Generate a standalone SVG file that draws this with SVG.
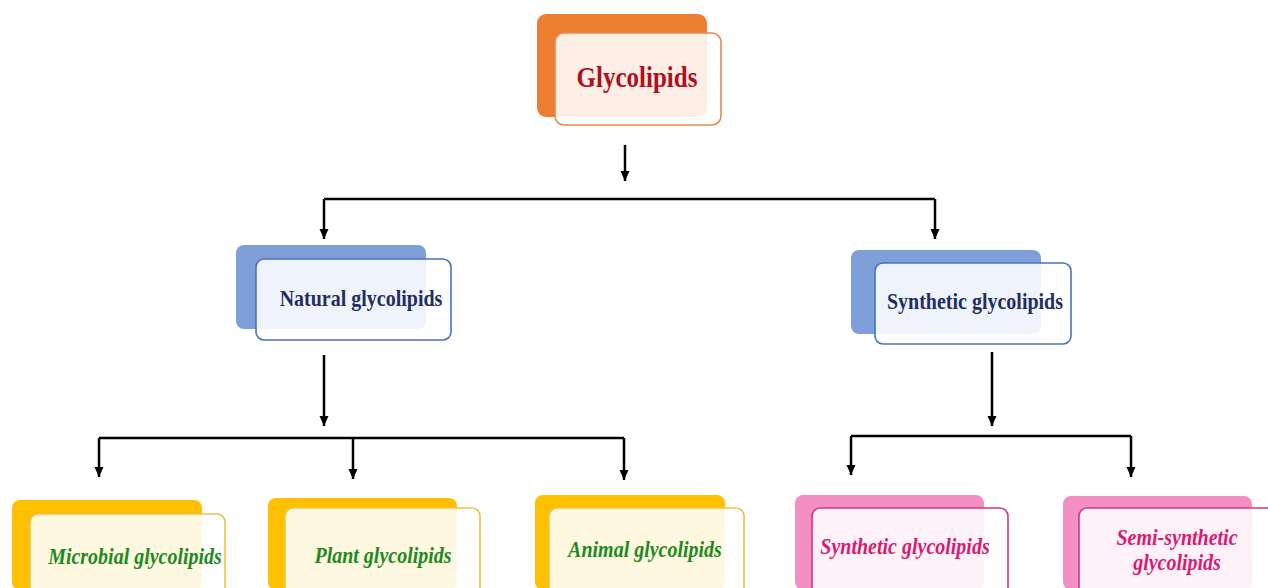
<svg xmlns="http://www.w3.org/2000/svg" width="1268" height="588" viewBox="0 0 1268 588">
<defs>
<marker id="ah" markerUnits="userSpaceOnUse" markerWidth="11" markerHeight="11" refX="10" refY="5" orient="auto">
<path d="M0,0.5 L10,5 L0,9.5 z" fill="#000"/>
</marker>
<style>
.ln{fill:none;stroke:#000;stroke-width:2.5}
.ar{fill:none;stroke:#000;stroke-width:2.5;marker-end:url(#ah)}
.front{fill:#fff;fill-opacity:0.88;stroke-width:1.6}
.t{font-family:"Liberation Serif","Times New Roman",serif;font-weight:bold;text-anchor:middle}
.o .back{fill:#ED7D31}.o .front{stroke:#E58A4C}
.b .back{fill:#7F9FD8}.b .front{stroke:#4A72C0}
.y .back{fill:#FFC000}.y .front{stroke:#EBC24A}
.p .back{fill:#F48FC4}.p .front{stroke:#D6367F}
.tb{fill:#1F2F5F;font-size:20px}
.tg{fill:#1E8A22;font-size:20px;font-style:italic}
.tp{fill:#D81B72;font-size:20px;font-style:italic}
</style>
</defs>
<g id="connectors">
<path class="ar" d="M625 145 V181"/>
<path class="ln" d="M324 199 H935"/>
<path class="ar" d="M324 199 V239"/>
<path class="ar" d="M935 199 V239"/>
<path class="ar" d="M324 355 V426"/>
<path class="ar" d="M992 352 V426"/>
<path class="ln" d="M99 438 H624"/>
<path class="ar" d="M99 438 V477"/>
<path class="ar" d="M353 438 V479"/>
<path class="ar" d="M624 438 V480"/>
<path class="ln" d="M851 436 H1131"/>
<path class="ar" d="M851 436 V475"/>
<path class="ar" d="M1131 436 V477"/>
</g>
<g id="glycolipids" class="o">
<rect class="back" x="537" y="14" width="170" height="103" rx="9"/>
<rect class="front" x="555" y="33" width="166" height="92" rx="9"/>
<text class="t" transform="translate(637,87) scale(1,1.2)" fill="#B0101E" font-size="25">Glycolipids</text>
</g>
<g id="natural" class="b">
<rect class="back" x="236" y="245" width="190" height="84" rx="8"/>
<rect class="front" x="256" y="259" width="195" height="81" rx="8"/>
<text class="t tb" transform="translate(361,306) scale(1,1.12)">Natural glycolipids</text>
</g>
<g id="synthetic" class="b">
<rect class="back" x="851" y="250" width="190" height="84" rx="8"/>
<rect class="front" x="875" y="263" width="196" height="81" rx="8"/>
<text class="t tb" transform="translate(975,309) scale(1,1.12)">Synthetic glycolipids</text>
</g>
<g id="microbial" class="y">
<rect class="back" x="12" y="500" width="190" height="90" rx="8"/>
<rect class="front" x="30" y="514" width="195" height="84" rx="8"/>
<text class="t tg" transform="translate(135,564) scale(1,1.12)">Microbial glycolipids</text>
</g>
<g id="plant" class="y">
<rect class="back" x="268" y="498" width="189" height="92" rx="8"/>
<rect class="front" x="285" y="508" width="195" height="90" rx="8"/>
<text class="t tg" transform="translate(383,563) scale(1,1.12)">Plant glycolipids</text>
</g>
<g id="animal" class="y">
<rect class="back" x="535" y="495" width="190" height="95" rx="8"/>
<rect class="front" x="549" y="508" width="195" height="90" rx="8"/>
<text class="t tg" transform="translate(645,557) scale(1,1.12)">Animal glycolipids</text>
</g>
<g id="synthetic-sub" class="p">
<rect class="back" x="795" y="495" width="189" height="95" rx="8"/>
<rect class="front" x="812" y="508" width="196" height="90" rx="8"/>
<text class="t tp" transform="translate(905,554) scale(1,1.12)">Synthetic glycolipids</text>
</g>
<g id="semi-synthetic" class="p">
<rect class="back" x="1063" y="496" width="189" height="94" rx="8"/>
<rect class="front" x="1079" y="508" width="200" height="90" rx="8"/>
<text class="t tp" transform="translate(1177,545) scale(1,1.12)">Semi-synthetic</text>
<text class="t tp" transform="translate(1177,570) scale(1,1.12)">glycolipids</text>
</g>
</svg>
